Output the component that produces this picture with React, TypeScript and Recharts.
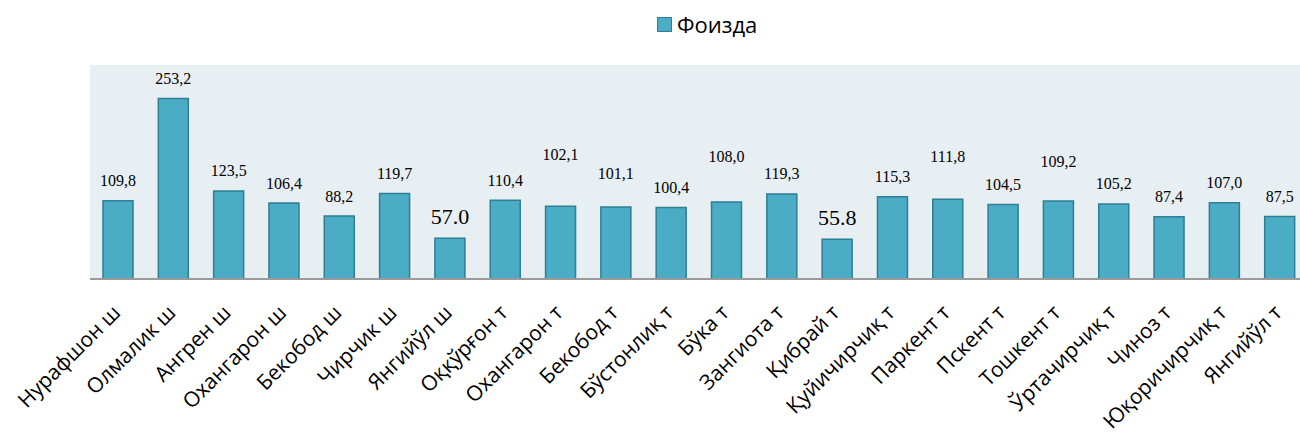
import React from 'react';
import { BarChart, Bar, XAxis, YAxis, CartesianGrid, LabelList } from 'recharts';

const districts = [
  'Нурафшон ш', 'Олмалик ш', 'Ангрен ш', 'Охангарон ш', 'Бекобод ш', 'Чирчик ш', 'Янгийўл ш',
  'Оққўрғон т', 'Охангарон т', 'Бекобод т', 'Бўстонлиқ т', 'Бўка т', 'Зангиота т', 'Қибрай т',
  'Қуйичирчиқ т', 'Паркент т', 'Пскент т', 'Тошкент т', 'Ўртачирчиқ т', 'Чиноз т',
  'Юқоричирчиқ т', 'Янгийўл т'
];

const percents = [
  109.8, 253.2, 123.5, 106.4, 88.2, 119.7, 57.0, 110.4, 102.1, 101.1, 100.4,
  108.0, 119.3, 55.8, 115.3, 111.8, 104.5, 109.2, 105.2, 87.4, 107.0, 87.5
];

const valueLabels = [
  '109,8', '253,2', '123,5', '106,4', '88,2', '119,7', '57.0', '110,4', '102,1', '101,1', '100,4',
  '108,0', '119,3', '55.8', '115,3', '111,8', '104,5', '109,2', '105,2', '87,4', '107,0', '87,5'
];

const data = districts.map((name, i) => ({ name, value: percents[i], label: valueLabels[i] }));

// labels were nudged by hand in the original, keep those nudges here
const labelLift: Record<number, number> = { 8: 32, 9: 13, 11: 25, 15: 23, 17: 20 };
const bigLabels = [6, 13];

const FILL = '#4BACC6';
const EDGE = '#2F7E93';

const ValueLabel = (props: any) => {
  const { x, y, width, index } = props;
  const big = bigLabels.includes(index);
  const lift = (big ? 22 : 20) + (labelLift[index] || 0);
  return (
    <text
      x={x + width / 2}
      y={y - lift}
      textAnchor="middle"
      dominantBaseline="central"
      fontFamily="'Liberation Serif', serif"
      fontSize={big ? 22 : 16}
      fill="#000"
    >
      {valueLabels[index]}
    </text>
  );
};

const SlantTick = (props: any) => {
  const { x, y, payload } = props;
  return (
    <g transform={`translate(${x + 4},${y + 35})`}>
      <text
        textAnchor="end"
        transform="rotate(-45)"
        fontFamily="'Open Sans', sans-serif"
        fontSize={21}
        fill="#000"
      >
        {payload.value}
      </text>
    </g>
  );
};

export default function App() {
  return (
    <div style={{ position: 'fixed', left: 0, top: 0, width: 1300, height: 434, overflow: 'hidden', background: '#fff' }}>
      <BarChart
        width={1310}
        height={434}
        data={data}
        margin={{ top: 65, right: 3, bottom: 5, left: 90 }}
        barSize={30}
      >
        <CartesianGrid horizontal={false} vertical={false} fill="#E8EFF3" stroke="none" />
        <XAxis
          dataKey="name"
          interval={0}
          height={150}
          tickLine={false}
          tickSize={0}
          tickMargin={0}
          axisLine={{ stroke: '#9A9A9A', strokeWidth: 2 }}
          tick={<SlantTick />}
        />
        <YAxis hide domain={[0, 300]} />
        <Bar dataKey="value" fill={FILL} stroke={EDGE} strokeWidth={1.5} isAnimationActive={false}>
          <LabelList dataKey="label" content={<ValueLabel />} />
        </Bar>
      </BarChart>
      <div
        style={{
          position: 'absolute',
          left: 657,
          top: 9,
          display: 'flex',
          alignItems: 'center',
          fontFamily: "'Open Sans', sans-serif",
          fontSize: 22,
          color: '#000'
        }}
      >
        <span style={{ width: 13, height: 13, background: FILL, border: `1.5px solid ${EDGE}`, marginRight: 5 }} />
        <span>Фоизда</span>
      </div>
    </div>
  );
}
